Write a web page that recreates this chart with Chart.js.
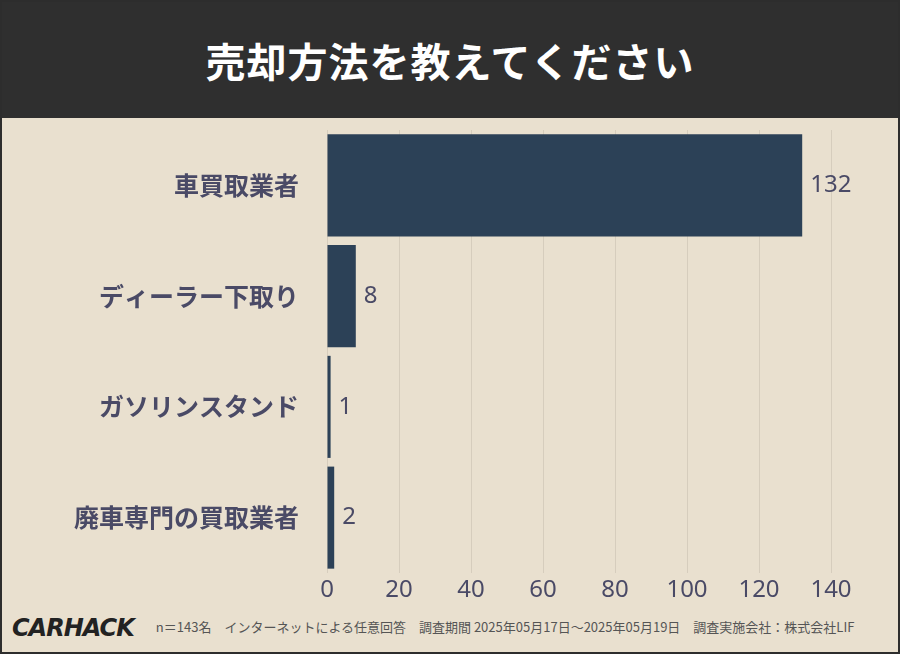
<!DOCTYPE html>
<html><head><meta charset="utf-8">
<script src="https://cdn.jsdelivr.net/npm/chart.js@4"></script>
<style>
body{margin:0;width:900px;height:654px;overflow:hidden;font-family:"Noto Sans CJK JP",sans-serif}
#wrap{position:relative;width:896px;height:650px;border:2px solid #2d2d2d;background:#e9e0cf}
#head{height:116px;background:#2f2f2f;color:#fff;font-size:40px;font-weight:700;text-align:center;line-height:116px;letter-spacing:1px}
#box{position:absolute;left:0;top:93px;width:880px;height:513px}
#foot{position:absolute;left:10px;top:612px;font-size:13px;color:#555;white-space:nowrap}
#foot b{font-family:"DejaVu Sans";font-style:italic;font-size:24px;color:#222;margin-right:22px;vertical-align:middle;letter-spacing:-1px}
</style></head><body>
<div id="wrap">
<div id="head">売却方法を教えてください</div>
<div id="box"><canvas id="c"></canvas></div>
<div id="foot"><b>CARHACK</b>n＝143名　インターネットによる任意回答　調査期間 2025年05月17日〜2025年05月19日　調査実施会社：株式会社LIF</div>
</div>
<script>
const categories = ['車買取業者', 'ディーラー下取り', 'ガソリンスタンド', '廃車専門の買取業者']
const values = [132, 8, 1, 2]

const valueLabels = {
  id: 'valueLabels',
  afterDatasetsDraw(chart) {
    const ctx = chart.ctx
    ctx.save()
    ctx.font = '24px "Noto Sans"'
    ctx.fillStyle = '#4a4a66'
    ctx.textBaseline = 'middle'
    chart.getDatasetMeta(0).data.forEach((bar, i) => {
      ctx.fillText(values[i], bar.x + 8, bar.y)
    })
    ctx.restore()
  },
}

new Chart(document.getElementById('c'), {
  type: 'bar',
  data: {
    labels: categories,
    datasets: [{ data: values, backgroundColor: '#2c4157', barPercentage: 0.95, categoryPercentage: 0.97 }],
  },
  options: {
    indexAxis: 'y',
    responsive: true,
    maintainAspectRatio: false,
    animation: false,
    layout: { padding: { top: 21, left: 0, right: 51, bottom: 0 } },
    plugins: { legend: { display: false }, tooltip: { enabled: false } },
    scales: {
      x: {
        min: 0, max: 140,
        ticks: { stepSize: 20, color: '#4a4a66', font: { size: 24, family: 'Noto Sans' } },
        grid: { color: '#d6cdbd', drawTicks: false },
        border: { display: false },
      },
      y: {
        afterFit: (s) => { s.width = 325 },
        ticks: { color: '#4a4a66', font: { size: 25, weight: 'bold', family: 'Noto Sans CJK JP' }, padding: 20 },
        grid: { display: false },
        border: { display: false },
      },
    },
  },
  plugins: [valueLabels],
})
</script>
</body></html>
